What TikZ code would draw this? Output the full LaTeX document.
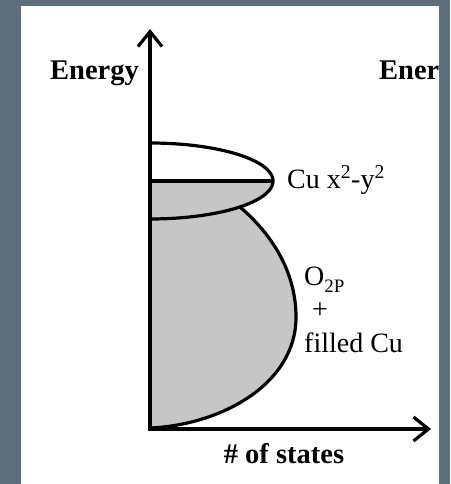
\documentclass[tikz,border=0pt]{standalone}
\usepackage{fontspec}
\setmainfont{Liberation Serif}
\usetikzlibrary{arrows.meta}
\definecolor{bgc}{HTML}{5E6E7D}
\definecolor{bandgray}{HTML}{C6C6C6}
\begin{document}
\begin{tikzpicture}[x=1pt,y=-1pt,
  outl/.style={line width=3.2pt, line join=round},
  axisline/.style={line width=3.2pt, -{Straight Barb[length=15pt,width=24pt,line width=3.2pt]}},
  lbl/.style={font=\fontsize{28}{30}\selectfont, inner sep=0pt, anchor=base west},
  blbl/.style={font=\bfseries\fontsize{28.5}{30}\selectfont, inner sep=0pt, anchor=base west}]
\useasboundingbox (0,0) rectangle (450,484);
\fill[bgc] (0,0) rectangle (450,484);
\fill[white] (21,6) rectangle (439,484);

% gray filled bands
\fill[bandgray] (150,181) -- plot[domain=0:90,samples=60] ({150+123*cos(\x)},{181+38*sin(\x)}) -- cycle;
\fill[bandgray] (150,207) -- (240,207) .. controls (275,237) and (296,275) .. (296,317)
   .. controls (296,385) and (220,425) .. (150,428) -- cycle;

% outlines
\draw[outl] plot[domain=-90:90,samples=90] ({150+123*cos(\x)},{181+38*sin(\x)});
\draw[outl] (150,181) -- (273,181);
\draw[outl] (240,207) .. controls (275,237) and (296,275) .. (296,317)
   .. controls (296,385) and (220,425) .. (150,428);

% axes
\coordinate (O) at (150,429);
\coordinate (ytip) at (150,29);
\coordinate (xtip) at (431,429);
\draw[axisline] ([yshift=1.6pt]O) -- (ytip);
\draw[axisline] ([xshift=-1.6pt]O) -- (xtip);

% labels
\node[blbl] (energy) at (50,80) {Energy};
\node[blbl] (energy2) at (379,80) {Ener};
\node[lbl] (cu) at (287,188) {Cu x\textsuperscript{2}-y\textsuperscript{2}};
\node[lbl] (o2p) at (304,285) {O\raisebox{-7pt}{\fontsize{19}{19}\selectfont 2P}};
\node[lbl, anchor=center] (plus) at (320,311) {+};
\node[lbl] (filled) at (304,352) {filled Cu};
\node[blbl, anchor=base] (states) at (284,463) {\# of states};
\end{tikzpicture}
\end{document}
